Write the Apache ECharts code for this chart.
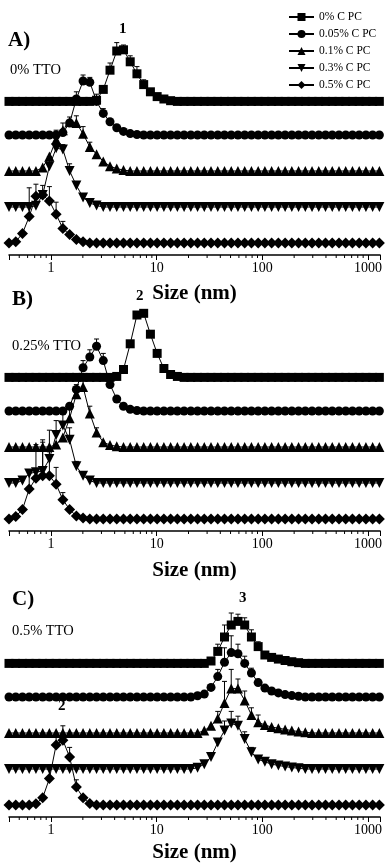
<!DOCTYPE html>
<html>
<head>
<meta charset="utf-8">
<script src="https://cdn.jsdelivr.net/npm/echarts@6/dist/echarts.min.js"></script>
<style>
  html, body { margin: 0; padding: 0; background: #fff; }
  #main { width: 385px; height: 866px; }
</style>
</head>
<body>
<div id="main"></div>
<script>
// DLS size bins (nm)
const sizes = [0.4, 0.4632, 0.5365, 0.6213, 0.7195, 0.8332, 0.9649, 1.117,
  1.294, 1.499, 1.736, 2.01, 2.328, 2.696, 3.122, 3.615,
  4.187, 4.849, 5.615, 6.503, 7.531, 8.721, 10.1, 11.7,
  13.54, 15.69, 18.17, 21.04, 24.36, 28.21, 32.67, 37.84,
  43.82, 50.75, 58.77, 68.06, 78.82, 91.28, 105.7, 122.4,
  141.8, 164.2, 190.1, 220.2, 255.0, 295.3, 342.0, 396.1,
  458.7, 531.2, 615.1, 712.4, 825.0, 955.4, 1106, 1281]

const seriesNames = ['0% C PC', '0.05% C PC', '0.1% C PC', '0.3% C PC', '0.5% C PC']
// vertical stacking of the curves (intensity %)
const offsets = [64, 50, 35, 20, 5]
const xTickLabels = [1, 10, 100, 1000]
const minorTicks = [0.5, 0.6, 0.7, 0.8, 0.9, 2, 3, 4, 5, 6, 7, 8, 9,
  20, 30, 40, 50, 60, 70, 80, 90, 200, 300, 400, 500, 600, 700, 800, 900]

// ---- A) 0% TTO
const aSquare = [0,0,0,0,0,0,0,0, 0,0,0,0,0,0.5,5,13, 21,21.5,16.5,11.5,7,4,2,1, 0.3,0,0,0,0,0,0,0,
  0,0,0,0,0,0,0,0, 0,0,0,0,0,0,0,0, 0,0,0,0,0,0,0,0]
const aCircle = [0,0,0,0,0,0,0,0, 1,5,15,22.5,22,14,9,5.5, 3,1.5,0.6,0.2,0,0,0,0, 0,0,0,0,0,0,0,0,
  0,0,0,0,0,0,0,0, 0,0,0,0,0,0,0,0, 0,0,0,0,0,0,0,0]
const aTri = [0,0,0,0,0,1.5,6,13, 17,20.5,20,15.5,10,7,4,2, 1,0.4,0,0,0,0,0,0, 0,0,0,0,0,0,0,0,
  0,0,0,0,0,0,0,0, 0,0,0,0,0,0,0,0, 0,0,0,0,0,0,0,0]
const aDown = [0,0,0,0,0.5,5,17,24.5, 24,15,9,4,1.7,0.6,0,0, 0,0,0,0,0,0,0,0, 0,0,0,0,0,0,0,0,
  0,0,0,0,0,0,0,0, 0,0,0,0,0,0,0,0, 0,0,0,0,0,0,0,0]
const aDiamond = [0,0.5,4,11,19.5,20,17.5,12, 6,3.5,1.5,0.5,0,0,0,0, 0,0,0,0,0,0,0,0, 0,0,0,0,0,0,0,0,
  0,0,0,0,0,0,0,0, 0,0,0,0,0,0,0,0, 0,0,0,0,0,0,0,0]

// ---- B) 0.25% TTO
const bSquare = [0,0,0,0,0,0,0,0, 0,0,0,0,0,0,0,0, 0.4,3.3,14,26,26.7,18,10,3.7, 1.2,0.4,0,0,0,0,0,0,
  0,0,0,0,0,0,0,0, 0,0,0,0,0,0,0,0, 0,0,0,0,0,0,0,0]
const bCircle = [0,0,0,0,0,0,0,0, 0,2,9,18,22.5,27,21,11, 5,2,0.7,0.2,0,0,0,0, 0,0,0,0,0,0,0,0,
  0,0,0,0,0,0,0,0, 0,0,0,0,0,0,0,0, 0,0,0,0,0,0,0,0]
const bTri = [0,0,0,0,0,0,0,1, 4,12,22,25,14,6,2,0.8, 0.3,0,0,0,0,0,0,0, 0,0,0,0,0,0,0,0,
  0,0,0,0,0,0,0,0, 0,0,0,0,0,0,0,0, 0,0,0,0,0,0,0,0]
const bDown = [0,0,1,4,4.5,5,10,20, 24,18,7,3,1,0,0,0, 0,0,0,0,0,0,0,0, 0,0,0,0,0,0,0,0,
  0,0,0,0,0,0,0,0, 0,0,0,0,0,0,0,0, 0,0,0,0,0,0,0,0]
const bDiamond = [0,1,4,12.5,17,18,18,14.5, 8,4,1.2,0.4,0,0,0,0, 0,0,0,0,0,0,0,0, 0,0,0,0,0,0,0,0,
  0,0,0,0,0,0,0,0, 0,0,0,0,0,0,0,0, 0,0,0,0,0,0,0,0]

// ---- C) 0.5% TTO
const cSquare = [0,0,0,0,0,0,0,0, 0,0,0,0,0,0,0,0, 0,0,0,0,0,0,0,0, 0,0,0,0,0,0,1,5,
  11,16,17.5,16,11,7,3.5,2.5, 1.8,1.2,0.7,0.3,0,0,0,0, 0,0,0,0,0,0,0,0]
const cCircle = [0,0,0,0,0,0,0,0, 0,0,0,0,0,0,0,0, 0,0,0,0,0,0,0,0, 0,0,0,0,0.5,1.2,4,8.5,
  14.5,18.5,18,14,10,6,3.7,2.5, 1.7,1,0.6,0.3,0,0,0,0, 0,0,0,0,0,0,0,0]
const cTri = [0,0,0,0,0,0,0,0, 0,0,0,0,0,0,0,0, 0,0,0,0,0,0,0,0, 0,0,0,0,0,1,3,6,
  12.5,18.5,18.5,13.5,7.5,4.5,3.3,2.5, 2,1.5,1,0.6,0.3,0,0,0, 0,0,0,0,0,0,0,0]
const cDown = [0,0,0,0,0,0,0,0, 0,0,0,0,0,0,0,0, 0,0,0,0,0,0,0,0, 0,0,0,0,0.5,2,5,11,
  16,19,18,12.5,7,4,3,2, 1.5,1,0.6,0.3,0,0,0,0, 0,0,0,0,0,0,0,0]
const cDiamond = [0,0,0,0,0.5,3,11,25, 27,20,7.5,3,0.6,0,0,0, 0,0,0,0,0,0,0,0, 0,0,0,0,0,0,0,0,
  0,0,0,0,0,0,0,0, 0,0,0,0,0,0,0,0, 0,0,0,0,0,0,0,0]

// error bars [size, +err]
const aSquareErr = [[3.615, 3], [4.187, 3.5], [4.849, 2], [5.615, 2.5], [6.503, 3], [7.531, 2]]
const aCircleErr = [[1.736, 3], [2.01, 2.5], [2.328, 2], [2.696, 3], [3.122, 2]]
const aTriErr = [[1.117, 4], [1.294, 3], [1.499, 2], [1.736, 3], [2.01, 3], [2.328, 2]]
const aDownErr = [[0.9649, 4], [1.117, 2], [1.294, 2], [1.499, 3]]
const aDiamondErr = [[0.6213, 12], [0.7195, 5], [0.8332, 4], [0.9649, 6], [1.117, 5], [1.294, 3]]

const bSquareErr = []
const bCircleErr = [[2.01, 3], [2.328, 3], [2.696, 3], [3.122, 3], [3.615, 2]]
const bTriErr = [[1.499, 6], [1.736, 4], [2.01, 5], [2.328, 3], [2.696, 2]]
const bDownErr = [[0.8332, 12], [0.9649, 12], [1.117, 6], [1.294, 5], [1.499, 5], [1.736, 2]]
const bDiamondErr = [[0.6213, 8], [0.7195, 14], [0.8332, 15], [0.9649, 10], [1.117, 7], [1.294, 3]]

const cSquareErr = [[37.84, 3], [43.82, 5], [50.75, 5], [58.77, 3], [68.06, 3], [78.82, 3], [91.28, 2]]
const cCircleErr = [[37.84, 3], [43.82, 6], [50.75, 7], [58.77, 4], [68.06, 3], [78.82, 2]]
const cTriErr = [[37.84, 3], [43.82, 9], [50.75, 8], [58.77, 4], [68.06, 4], [78.82, 3], [91.28, 3]]
const cDownErr = [[43.82, 4], [50.75, 5], [58.77, 4], [68.06, 3], [78.82, 2]]
const cDiamondErr = [[0.9649, 4], [1.117, 4], [1.294, 6], [1.499, 4], [1.736, 3]]

const panels = [
  { values: [aSquare, aCircle, aTri, aDown, aDiamond], errors: [aSquareErr, aCircleErr, aTriErr, aDownErr, aDiamondErr] },
  { values: [bSquare, bCircle, bTri, bDown, bDiamond], errors: [bSquareErr, bCircleErr, bTriErr, bDownErr, bDiamondErr] },
  { values: [cSquare, cCircle, cTri, cDown, cDiamond], errors: [cSquareErr, cCircleErr, cTriErr, cDownErr, cDiamondErr] }
]

const symbols = ['rect', 'circle', 'triangle', 'path://M0,0L10,0L5,9Z', 'diamond']
const symbolSizes = [9, 9, 10, 10, 11]
const serif = 'Liberation Serif'

const gridTops = [15, 291, 577]
const nameGaps = [28, 29, 25]

const chartDom = document.getElementById('main')
const myChart = echarts.init(chartDom, null, { renderer: 'canvas' })

const grids = []
const xAxes = []
const yAxes = []
const series = []

gridTops.forEach((top, p) => {
  grids.push({ left: 9, right: 2, top: top, height: 240 })
  xAxes.push({
    type: 'log',
    logBase: 10,
    gridIndex: p,
    min: 0.4,
    max: 1300,
    name: 'Size (nm)',
    nameLocation: 'middle',
    nameGap: nameGaps[p],
    nameTextStyle: { fontFamily: serif, fontWeight: 'bold', fontSize: 21, color: '#000' },
    axisLine: { lineStyle: { color: '#000', width: 1.5 } },
    axisTick: { length: 5, lineStyle: { color: '#000', width: 1 } },
    axisLabel: {
      color: '#000', fontFamily: serif, fontSize: 14, margin: 6,
      formatter: v => {
        const r = Math.round(v)
        return xTickLabels.includes(r) && Math.abs(v - r) < 1e-6 ? String(r) : ''
      }
    },
    splitLine: { show: false }
  })
  yAxes.push({ type: 'value', gridIndex: p, min: 0, max: 100, show: false })

  // minor ticks
  series.push({
    type: 'custom',
    xAxisIndex: p,
    yAxisIndex: p,
    silent: true,
    data: minorTicks.map(v => [v, 0]),
    renderItem: (params, api) => {
      const pt = api.coord([api.value(0), 0])
      return {
        type: 'line',
        shape: { x1: pt[0], y1: pt[1], x2: pt[0], y2: pt[1] + 3 },
        style: { stroke: '#000', lineWidth: 1 }
      }
    }
  })

  panels[p].values.forEach((vals, k) => {
    series.push({
      name: seriesNames[k],
      type: 'line',
      xAxisIndex: p,
      yAxisIndex: p,
      data: sizes.map((s, i) => [s, offsets[k] + vals[i]]),
      symbol: symbols[k],
      symbolSize: symbolSizes[k],
      showAllSymbol: true,
      color: '#000',
      itemStyle: { color: '#000' },
      lineStyle: { color: '#000', width: 1 },
      z: 3
    })
    const errs = panels[p].errors[k]
    if (errs.length) {
      series.push({
        type: 'custom',
        xAxisIndex: p,
        yAxisIndex: p,
        silent: true,
        z: 2,
        encode: { x: 0, y: [1, 2] },
        data: errs.map(e => {
          const i = sizes.indexOf(e[0])
          return [e[0], offsets[k] + vals[i], offsets[k] + vals[i] + e[1]]
        }),
        renderItem: (params, api) => {
          const a = api.coord([api.value(0), api.value(1)])
          const b = api.coord([api.value(0), api.value(2)])
          return {
            type: 'group',
            children: [
              { type: 'line', shape: { x1: a[0], y1: a[1], x2: b[0], y2: b[1] }, style: { stroke: '#000', lineWidth: 1 } },
              { type: 'line', shape: { x1: b[0] - 2.5, y1: b[1], x2: b[0] + 2.5, y2: b[1] }, style: { stroke: '#000', lineWidth: 1 } }
            ]
          }
        }
      })
    }
  })
})

const txt = (x, y, text, size, bold, align) => ({
  type: 'text', left: x, top: y,
  style: { text: text, font: (bold ? 'bold ' : '') + size + 'px "' + serif + '"', fill: '#000', textAlign: align || 'left' }
})

const option = {
  animation: false,
  backgroundColor: '#fff',
  grid: grids,
  xAxis: xAxes,
  yAxis: yAxes,
  legend: {
    data: seriesNames,
    orient: 'vertical',
    left: 283,
    top: 6,
    itemWidth: 25,
    itemHeight: 10,
    itemGap: 5,
    textStyle: { fontFamily: serif, fontSize: 11.5, color: '#000' },
    selectedMode: false
  },
  graphic: [
    txt(8, 30, 'A)', 21, true),
    txt(10, 63, '0% TTO', 14.5, false),
    txt(119, 22, '1', 15, true),
    txt(12, 289, 'B)', 21, true),
    txt(12, 339, '0.25% TTO', 14.5, false),
    txt(136, 289, '2', 15, true),
    txt(12, 589, 'C)', 21, true),
    txt(12, 624, '0.5% TTO', 14.5, false),
    txt(239, 591, '3', 15, true),
    txt(58, 699, '2', 15, true)
  ],
  series: series
}

option && myChart.setOption(option)
</script>
</body>
</html>
